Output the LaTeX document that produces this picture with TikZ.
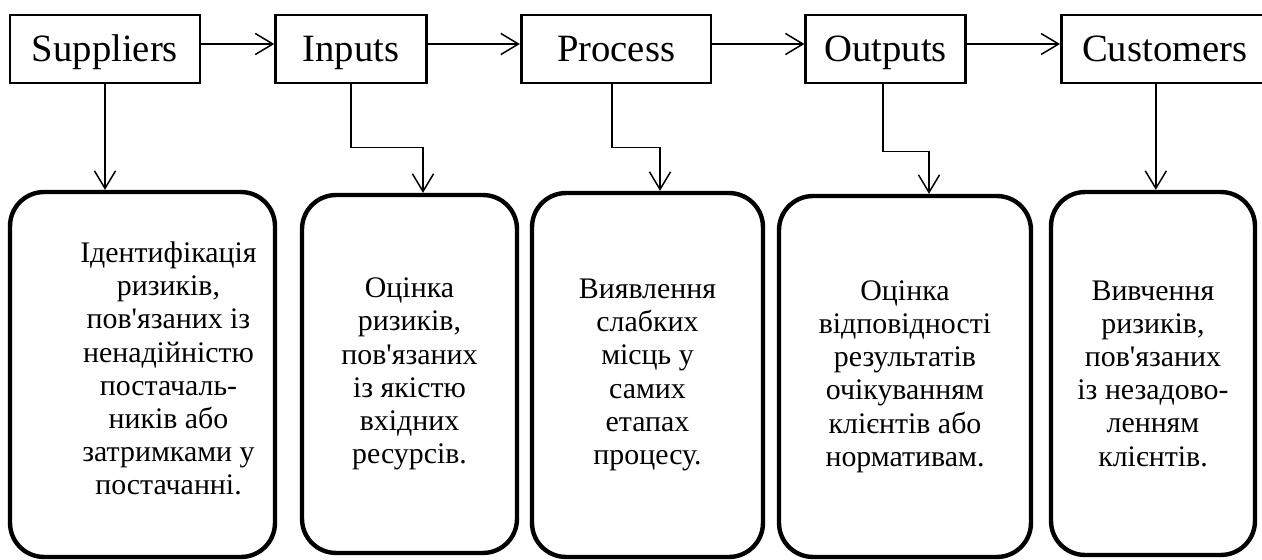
\documentclass[tikz,border=0pt]{standalone}
\usepackage{fontspec}
\setmainfont{Liberation Serif}[Ligatures=TeXOff]
\usetikzlibrary{arrows.meta, positioning}

\begin{document}
\begin{tikzpicture}[
        x = 0.02cm, y = -0.02cm, % one unit = one pixel of the sketch
        > = {Straight Barb[length=10pt, width=12pt]}, % arrow head style
        node distance = 1.84cm, % gap between the top boxes
        line width = 0.85pt % line style
    ]

    \tikzstyle{stage}=[
        draw = black,
        line width = 1.5pt,
        minimum height = 1.36cm,
        text height = 14.5pt,
        text depth = 0pt,
        font = \fontsize{22}{24}\selectfont
    ]

    \tikzstyle{risk}=[
        draw = black,
        line width = 2.5pt,
        rounded corners = 0.68cm,
        align = center,
        font = \fontsize{17}{18.9}\selectfont
    ]

    \useasboundingbox (0,0) rectangle (1262,560);

    \node[stage, minimum width=3.8cm] (s) at (105,49) {Suppliers};
    \node[stage, minimum width=3.02cm] (i) [right=1.46cm of s] {Inputs};
    \node[stage, minimum width=3.8cm] (p) [right=of i] {Process};
    \node[stage, minimum width=3.2cm] (o) [right=of p] {Outputs};
    \node[stage, minimum width=4.14cm] (c) [right=1.86cm of o] {Customers};

    \node[risk, minimum width=5.3cm, minimum height=7.3cm] (b1) at (142.5,374.5) {};
    \node[align=center, font=\fontsize{17}{18.9}\selectfont] (t1) at ([xshift=0.52cm, yshift=0.12cm]b1.center)
        {Ідентифікація\\ризиків,\\пов'язаних із\\ненадійністю\\постачаль-\\ників або\\затримками у\\постачанні.};
    \node[risk, minimum width=4.3cm, minimum height=7.16cm] (b2) at (409.5,374)
        {Оцінка\\ризиків,\\пов'язаних\\із якістю\\вхідних\\ресурсів.};
    \node[risk, minimum width=4.62cm, minimum height=7.28cm] (b3) at (647.5,375)
        {Виявлення\\слабких\\місць у\\самих\\етапах\\процесу.};
    \node[risk, minimum width=5.04cm, minimum height=7.22cm] (b4) at (905,376.5)
        {Оцінка\\відповідності\\результатів\\очікуванням\\клієнтів або\\нормативам.};
    \node[risk, minimum width=4.08cm, minimum height=7.26cm] (b5) at (1153,373.5)
        {Вивчення\\ризиків,\\пов'язаних\\із незадово-\\ленням\\клієнтів.};

    \foreach \a/\b in {s/i, i/p, p/o, o/c}
        \draw[->] ([yshift=0.1cm]\a.east) -- ([yshift=0.1cm]\b.west);

    \draw[->] (s.south) -- (s.south |- b1.north);
    \draw[->] (i.south) -- ++(0,63) -| ([xshift=0.27cm]b2.north);
    \draw[->] ([xshift=-0.08cm]p.south) -- ++(0,63) -| ([xshift=0.25cm]b3.north);
    \draw[->] ([xshift=-0.06cm]o.south) -- ++(0,67) -| ([xshift=0.48cm]b4.north);
    \draw[->] ([xshift=-0.18cm]c.south) -- ([xshift=-0.18cm]c.south |- b5.north);

\end{tikzpicture}
\end{document}
